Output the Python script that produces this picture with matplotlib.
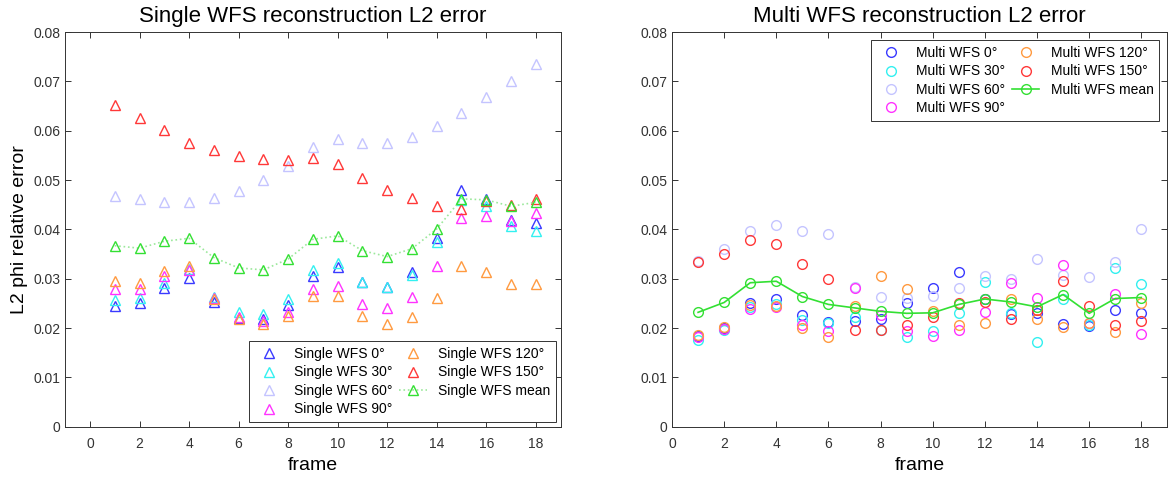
import matplotlib.pyplot as plt
import numpy as np
from matplotlib.ticker import FuncFormatter

plt.rcParams["font.family"] = ["Liberation Sans", "DejaVu Sans"]

frames = np.arange(1, 19)
angles = ["0", "30", "60", "90", "120", "150"]

# single WFS reconstruction, one array per wavefront sensor
single_0 = [0.0244, 0.0251, 0.0281, 0.0301, 0.0252, 0.0220, 0.0218, 0.0247, 0.0305,
            0.0324, 0.0293, 0.0283, 0.0314, 0.0383, 0.0480, 0.0462, 0.0420, 0.0414]
single_30 = [0.0256, 0.0262, 0.0291, 0.0320, 0.0264, 0.0232, 0.0229, 0.0259, 0.0317,
             0.0332, 0.0293, 0.0284, 0.0307, 0.0374, 0.0460, 0.0447, 0.0406, 0.0396]
single_60 = [0.0468, 0.0461, 0.0455, 0.0455, 0.0464, 0.0478, 0.0501, 0.0529, 0.0568,
             0.0583, 0.0575, 0.0575, 0.0587, 0.0609, 0.0636, 0.0668, 0.0700, 0.0736]
single_90 = [0.0280, 0.0280, 0.0305, 0.0318, 0.0261, 0.0222, 0.0214, 0.0232, 0.0279,
             0.0286, 0.0249, 0.0240, 0.0264, 0.0325, 0.0423, 0.0428, 0.0418, 0.0434]
single_120 = [0.0296, 0.0292, 0.0316, 0.0325, 0.0259, 0.0219, 0.0208, 0.0224, 0.0266,
              0.0266, 0.0225, 0.0208, 0.0222, 0.0262, 0.0325, 0.0313, 0.0289, 0.0289]
single_150 = [0.0653, 0.0626, 0.0601, 0.0576, 0.0561, 0.0549, 0.0543, 0.0541, 0.0545,
              0.0533, 0.0504, 0.0480, 0.0464, 0.0448, 0.0441, 0.0458, 0.0449, 0.0461]

# multi WFS reconstruction
multi_0 = [0.0184, 0.0201, 0.0250, 0.0258, 0.0226, 0.0213, 0.0215, 0.0218, 0.0251,
           0.0282, 0.0314, 0.0259, 0.0228, 0.0230, 0.0208, 0.0204, 0.0236, 0.0230]
multi_30 = [0.0176, 0.0196, 0.0243, 0.0249, 0.0216, 0.0211, 0.0223, 0.0196, 0.0182,
            0.0194, 0.0231, 0.0294, 0.0230, 0.0171, 0.0260, 0.0206, 0.0321, 0.0289]
multi_60 = [0.0336, 0.0361, 0.0397, 0.0409, 0.0397, 0.0390, 0.0284, 0.0264, 0.0262,
            0.0266, 0.0282, 0.0305, 0.0299, 0.0341, 0.0307, 0.0303, 0.0333, 0.0401]
multi_90 = [0.0182, 0.0199, 0.0238, 0.0242, 0.0206, 0.0195, 0.0282, 0.0226, 0.0194,
            0.0184, 0.0197, 0.0232, 0.0292, 0.0261, 0.0328, 0.0211, 0.0269, 0.0189]
multi_120 = [0.0186, 0.0203, 0.0247, 0.0245, 0.0201, 0.0182, 0.0245, 0.0306, 0.0280,
             0.0235, 0.0207, 0.0211, 0.0260, 0.0218, 0.0203, 0.0211, 0.0193, 0.0251]
multi_150 = [0.0333, 0.0351, 0.0378, 0.0370, 0.0330, 0.0299, 0.0196, 0.0196, 0.0207,
             0.0223, 0.0250, 0.0253, 0.0218, 0.0236, 0.0295, 0.0245, 0.0207, 0.0214]

single_mean = [0.0367, 0.0362, 0.0376, 0.0382, 0.0343, 0.0322, 0.0318, 0.0340, 0.0380,
               0.0387, 0.0357, 0.0345, 0.0361, 0.0401, 0.0462, 0.0460, 0.0447, 0.0455]
multi_mean = [0.0232, 0.0252, 0.0292, 0.0295, 0.0264, 0.0248, 0.0241, 0.0234, 0.0230,
              0.0231, 0.0248, 0.0259, 0.0253, 0.0243, 0.0268, 0.0230, 0.0260, 0.0262]

single = [single_0, single_30, single_60, single_90, single_120, single_150]
multi = [multi_0, multi_30, multi_60, multi_90, multi_120, multi_150]
colors = ["#3a3aff", "#33f0f0", "#c4c4ff", "#ff33ff", "#ff9a40", "#ff3838"]
ms = 7

fig, (ax1, ax2) = plt.subplots(1, 2, figsize=(11.75, 4.79), dpi=100)
fig.subplots_adjust(left=0.0555, right=0.9935, top=0.933, bottom=0.109, wspace=0.225)

for vals, ang, c in zip(single, angles, colors):
    ax1.plot(frames, vals, "^", mfc="none", mec=c, ms=ms, mew=1.0,
             linestyle="none", label=f"Single WFS {ang}°")
ax1.plot(frames, single_mean, ":", color="#9be89b", lw=1.2, marker="^", mfc="none",
         mec="#33e033", ms=ms, mew=1.0, label="Single WFS mean")

for vals, ang, c in zip(multi, angles, colors):
    ax2.plot(frames, vals, "o", mfc="none", mec=c, ms=ms, mew=1.0,
             linestyle="none", label=f"Multi WFS {ang}°")
ax2.plot(frames, multi_mean, "-", color="#33e033", lw=1.2, marker="o", mfc="none",
         mec="#33e033", ms=ms, mew=1.0, label="Multi WFS mean")

ax1.set_xlim(-1, 19)
ax2.set_xlim(0, 19)
fmt = FuncFormatter(lambda v, p: f"{v:g}")
for ax, title in [(ax1, "Single WFS reconstruction L2 error"),
                  (ax2, "Multi WFS reconstruction L2 error")]:
    ax.set_ylim(0, 0.08)
    ax.set_xticks(np.arange(0, 19, 2))
    ax.set_yticks(np.arange(0, 0.081, 0.01))
    ax.yaxis.set_major_formatter(fmt)
    ax.tick_params(direction="in", top=True, right=True, labelsize=10,
                   colors="#333333", length=4, width=0.7)
    ax.tick_params(axis="x", pad=7)
    for s in ax.spines.values():
        s.set_color("#333333")
        s.set_linewidth(0.7)
    ax.set_title(title, fontsize=16, pad=7)
    ax.set_xlabel("frame", fontsize=14, labelpad=5)
ax1.set_ylabel("L2 phi relative error", fontsize=14, labelpad=4)

leg_kw = dict(ncol=2, fontsize=10, fancybox=False, edgecolor="#333333",
              framealpha=1, handlelength=2.0, handletextpad=0.8,
              columnspacing=0.5, labelspacing=0.32, borderpad=0.4)
leg1 = ax1.legend(loc="lower right", borderaxespad=0.35, **leg_kw)
leg2 = ax2.legend(loc="upper right", borderaxespad=0.6, **leg_kw)
for leg in (leg1, leg2):
    leg.get_frame().set_linewidth(0.7)

fig.savefig("out.png")
